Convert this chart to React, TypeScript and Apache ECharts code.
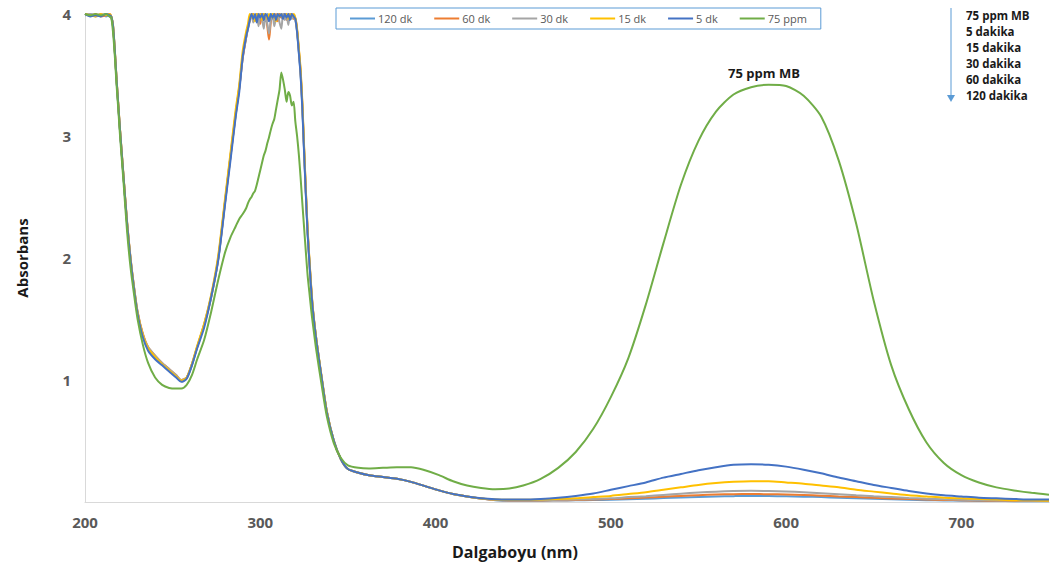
import React, { useEffect, useRef } from "react";
import * as echarts from "echarts";

// Wavelength grid (nm)
const WAVELENGTH: number[] = [
  200, 203, 206, 209, 212, 214, 215, 216, 217, 218, 219, 220, 222, 224, 226, 228, 230, 233, 236, 240, 244, 248, 252, 255, 258, 261, 264, 268, 272, 276, 280, 283, 286, 288, 290, 292,
  293, 294, 295, 296, 297, 298, 299, 300, 301, 302, 303, 304, 305, 306, 307, 308, 309, 310, 311, 312, 313, 314, 315, 316, 317, 318, 319, 320, 321, 322, 323, 324, 325, 326, 327, 328, 329, 330,
  332, 335, 338, 342, 346, 350, 356, 362, 370, 378, 386, 394, 402, 410, 418, 426, 434, 442, 450, 460, 470, 480, 490, 500, 510, 520, 530, 540, 550, 560, 570, 580, 590, 600, 610, 620, 630, 640, 650, 660, 670, 680, 690, 700, 710, 720, 730, 740, 750,
];

const SERIES_NAMES = ["120 dk", "60 dk", "30 dk", "15 dk", "5 dk", "75 ppm"];
const SERIES_COLORS = ["#5B9BD5", "#ED7D31", "#A5A5A5", "#FFC000", "#4472C4", "#70AD47"];

const ABS_120: number[] = [
  3.99, 4.0, 3.99, 4.0, 3.98, 3.99, 3.98, 3.9, 3.7, 3.46, 3.25, 3.04, 2.66, 2.29, 1.99, 1.75, 1.55, 1.37, 1.26, 1.19, 1.13, 1.08, 1.03, 0.99, 1.015, 1.12, 1.27, 1.45, 1.68, 1.99, 2.47, 2.83, 3.18, 3.39, 3.64, 3.81,
  3.88, 3.94, 3.99, 4.0, 3.97, 4.0, 3.95, 4.0, 3.98, 4.0, 3.94, 4.0, 3.97, 4.0, 3.96, 4.0, 3.98, 3.95, 4.0, 3.97, 4.0, 3.99, 4.0, 3.96, 4.0, 3.98, 3.99, 3.96, 3.86, 3.69, 3.51, 3.24, 2.88, 2.53, 2.21, 1.98, 1.76, 1.58,
  1.33, 1.02, 0.74, 0.5, 0.35, 0.27, 0.24, 0.22, 0.205, 0.19, 0.165, 0.13, 0.095, 0.065, 0.045, 0.028, 0.015, 0.01, 0.01, 0.01, 0.012, 0.014, 0.016, 0.018, 0.022, 0.027, 0.032, 0.037, 0.041, 0.045, 0.048, 0.05, 0.049, 0.047, 0.044, 0.04, 0.035, 0.031, 0.026, 0.022, 0.018, 0.015, 0.013, 0.011, 0.009, 0.008, 0.007, 0.006, 0.006,
];

const ABS_60: number[] = [
  4.0, 3.99, 4.0, 3.98, 3.99, 4.0, 3.98, 3.9, 3.7, 3.47, 3.26, 3.05, 2.67, 2.3, 2.0, 1.76, 1.56, 1.38, 1.27, 1.2, 1.14, 1.09, 1.04, 1.0, 1.02, 1.13, 1.27, 1.45, 1.68, 1.99, 2.47, 2.83, 3.18, 3.39, 3.64, 3.81,
  3.89, 3.95, 3.99, 4.0, 3.96, 4.0, 3.97, 3.92, 4.0, 3.95, 3.99, 3.9, 3.79, 3.93, 4.0, 3.97, 4.0, 3.94, 4.0, 3.97, 3.99, 4.0, 3.95, 4.0, 3.98, 4.0, 3.96, 3.97, 3.87, 3.71, 3.53, 3.26, 2.9, 2.55, 2.23, 1.99, 1.77, 1.58,
  1.33, 1.02, 0.74, 0.5, 0.35, 0.27, 0.24, 0.22, 0.205, 0.19, 0.165, 0.13, 0.095, 0.065, 0.045, 0.028, 0.016, 0.012, 0.012, 0.012, 0.014, 0.016, 0.02, 0.024, 0.03, 0.036, 0.043, 0.05, 0.056, 0.061, 0.064, 0.065, 0.064, 0.061, 0.057, 0.052, 0.046, 0.04, 0.034, 0.029, 0.024, 0.02, 0.017, 0.014, 0.012, 0.01, 0.009, 0.008, 0.008,
];

const ABS_30: number[] = [
  3.99, 4.0, 3.98, 3.99, 4.0, 3.98, 3.97, 3.89, 3.69, 3.46, 3.25, 3.04, 2.66, 2.29, 1.99, 1.76, 1.56, 1.37, 1.27, 1.2, 1.14, 1.09, 1.04, 1.0, 1.02, 1.13, 1.27, 1.46, 1.69, 2.0, 2.48, 2.84, 3.19, 3.4, 3.66, 3.82,
  3.9, 3.96, 4.0, 3.93, 3.98, 4.0, 3.9, 4.0, 3.96, 3.88, 4.0, 3.92, 3.84, 3.95, 4.0, 3.9, 3.97, 4.0, 3.93, 3.88, 4.0, 3.95, 3.99, 3.91, 4.0, 3.96, 3.98, 3.95, 3.86, 3.7, 3.52, 3.25, 2.89, 2.54, 2.22, 1.98, 1.76, 1.58,
  1.33, 1.02, 0.74, 0.5, 0.35, 0.27, 0.24, 0.22, 0.205, 0.19, 0.165, 0.13, 0.095, 0.065, 0.045, 0.028, 0.018, 0.015, 0.015, 0.015, 0.018, 0.02, 0.025, 0.03, 0.04, 0.048, 0.058, 0.068, 0.078, 0.085, 0.09, 0.092, 0.09, 0.086, 0.08, 0.072, 0.064, 0.055, 0.047, 0.04, 0.033, 0.027, 0.022, 0.018, 0.015, 0.013, 0.012, 0.01, 0.01,
];

const ABS_15: number[] = [
  4.0, 3.99, 3.98, 4.0, 3.99, 4.0, 3.98, 3.91, 3.71, 3.47, 3.26, 3.05, 2.67, 2.29, 1.99, 1.75, 1.55, 1.37, 1.26, 1.19, 1.13, 1.08, 1.03, 0.995, 1.02, 1.13, 1.28, 1.46, 1.7, 2.02, 2.5, 2.86, 3.22, 3.42, 3.7, 3.86,
  3.92, 4.0, 3.97, 4.0, 3.94, 4.0, 3.98, 4.0, 3.95, 4.0, 3.99, 3.96, 4.0, 3.97, 4.0, 3.99, 3.94, 4.0, 3.98, 4.0, 3.97, 3.99, 4.0, 3.96, 4.0, 3.98, 4.0, 3.97, 3.88, 3.72, 3.55, 3.28, 2.92, 2.56, 2.24, 2.0, 1.78, 1.59,
  1.33, 1.03, 0.74, 0.5, 0.35, 0.27, 0.24, 0.22, 0.205, 0.19, 0.165, 0.13, 0.095, 0.065, 0.045, 0.028, 0.02, 0.018, 0.018, 0.02, 0.025, 0.03, 0.04, 0.05, 0.065, 0.08, 0.1, 0.12, 0.14, 0.155, 0.165, 0.17, 0.17, 0.16, 0.15, 0.135, 0.12, 0.1, 0.085, 0.07, 0.055, 0.045, 0.035, 0.03, 0.025, 0.02, 0.015, 0.015, 0.01,
];

const ABS_5: number[] = [
  4.0, 3.98, 3.99, 3.98, 4.0, 3.99, 3.98, 3.9, 3.7, 3.46, 3.25, 3.04, 2.66, 2.28, 1.98, 1.74, 1.54, 1.35, 1.24, 1.17, 1.12, 1.07, 1.02, 0.985, 1.01, 1.12, 1.26, 1.43, 1.68, 1.98, 2.45, 2.8, 3.16, 3.36, 3.65, 3.82,
  3.88, 3.95, 4.0, 3.96, 4.0, 3.93, 4.0, 3.97, 4.0, 3.95, 4.0, 3.98, 3.94, 4.0, 3.97, 4.0, 3.95, 4.0, 3.98, 4.0, 3.96, 4.0, 3.97, 4.0, 3.95, 4.0, 3.98, 3.96, 3.85, 3.68, 3.5, 3.22, 2.86, 2.52, 2.2, 1.97, 1.75, 1.57,
  1.32, 1.02, 0.73, 0.5, 0.35, 0.27, 0.24, 0.22, 0.205, 0.19, 0.165, 0.13, 0.095, 0.065, 0.045, 0.03, 0.022, 0.02, 0.02, 0.025, 0.035, 0.05, 0.07, 0.1, 0.13, 0.16, 0.2, 0.23, 0.26, 0.285, 0.305, 0.31, 0.305, 0.29, 0.265, 0.235, 0.2, 0.17, 0.14, 0.115, 0.09, 0.07, 0.055, 0.045, 0.035, 0.03, 0.025, 0.02, 0.02,
];

const ABS_75PPM: number[] = [
  4.0, 3.99, 4.0, 3.99, 4.0, 3.98, 3.97, 3.85, 3.66, 3.42, 3.22, 3.0, 2.62, 2.22, 1.92, 1.7, 1.5, 1.29, 1.14, 1.02, 0.96, 0.935, 0.93, 0.93, 0.96, 1.04, 1.17, 1.33, 1.56, 1.82, 2.05, 2.17, 2.26, 2.32, 2.36, 2.41,
  2.45, 2.48, 2.5, 2.53, 2.55, 2.6, 2.66, 2.72, 2.78, 2.84, 2.88, 2.94, 2.99, 3.05, 3.1, 3.14, 3.22, 3.3, 3.38, 3.52, 3.46, 3.38, 3.28, 3.36, 3.33, 3.25, 3.28, 3.12, 3.0, 2.85, 2.66, 2.45, 2.25, 2.05, 1.86, 1.72, 1.58, 1.46,
  1.24, 0.96, 0.7, 0.48, 0.36, 0.3, 0.28, 0.275, 0.28, 0.285, 0.285, 0.26, 0.22, 0.17, 0.135, 0.115, 0.105, 0.11, 0.135, 0.19, 0.28, 0.41, 0.6, 0.86, 1.18, 1.62, 2.12, 2.6, 2.96, 3.2, 3.34, 3.4, 3.42, 3.41, 3.33, 3.16, 2.8, 2.28, 1.65, 1.12, 0.76, 0.49, 0.32, 0.22, 0.16, 0.12, 0.095, 0.075, 0.06,
];

const SERIES_VALUES = [ABS_120, ABS_60, ABS_30, ABS_15, ABS_5, ABS_75PPM];

const X_TICKS_MIN = 200;
const X_TICKS_MAX = 750;
const Y_MAX = 4;

const NOTE_LINES = ["75 ppm MB", "5 dakika", "15 dakika", "30 dakika", "60 dakika", "120 dakika"];
const PEAK_LABEL = "75 ppm MB";
const X_TITLE = "Dalgaboyu (nm)";
const Y_TITLE = "Absorbans";

const FONT = "'Open Sans', sans-serif";

export default function App() {
  const ref = useRef<HTMLDivElement>(null);

  useEffect(() => {
    if (!ref.current) return;
    const chart = echarts.init(ref.current, undefined, { renderer: "svg" });

    const series = SERIES_NAMES.map((name, i) => ({
      name,
      type: "line",
      data: WAVELENGTH.map((w, k) => [w, SERIES_VALUES[i][k]]),
      showSymbol: false,
      symbol: "none",
      smooth: 0.25,
      lineStyle: { width: 2, color: SERIES_COLORS[i] },
      itemStyle: { color: SERIES_COLORS[i] },
      z: 2 + i,
    }));

    const noteGraphics = NOTE_LINES.map((t, i) => ({
      type: "text",
      x: 966,
      y: 15 + i * 16,
      style: {
        text: t,
        font: `bold 11.5px ${FONT}`,
        fill: "#1a1a1a",
        textAlign: "left",
        textVerticalAlign: "middle",
      },
    }));

    chart.setOption({
      animation: false,
      backgroundColor: "#ffffff",
      grid: { left: 85, right: 2, top: 14, bottom: 69, containLabel: false },
      legend: {
        data: SERIES_NAMES,
        left: 336,
        top: 8,
        orient: "horizontal",
        icon: "rect",
        itemWidth: 25,
        itemHeight: 2,
        itemGap: 22,
        padding: [5, 14, 5, 14],
        borderColor: "#5B9BD5",
        borderWidth: 1,
        textStyle: { fontSize: 11, color: "#595959", fontFamily: FONT, padding: [0, 0, 0, -2] },
      },
      xAxis: {
        type: "value",
        min: X_TICKS_MIN,
        max: X_TICKS_MAX,
        interval: 100,
        axisLine: { show: true, lineStyle: { color: "#D9D9D9", width: 1 } },
        axisTick: { show: false },
        splitLine: { show: false },
        axisLabel: {
          showMaxLabel: false,
          margin: 12,
          color: "#595959",
          fontSize: 15,
          fontWeight: "bold",
          fontFamily: FONT,
        },
      },
      yAxis: {
        type: "value",
        min: 0,
        max: Y_MAX,
        interval: 1,
        axisLine: { show: true, lineStyle: { color: "#D9D9D9", width: 1 } },
        axisTick: { show: false },
        splitLine: { show: false },
        axisLabel: {
          showMinLabel: false,
          margin: 14,
          color: "#595959",
          fontSize: 15,
          fontWeight: "bold",
          fontFamily: FONT,
        },
      },
      series,
      graphic: [
        {
          type: "text",
          x: 22,
          y: 258,
          rotation: Math.PI / 2,
          style: {
            text: Y_TITLE,
            font: `bold 15px ${FONT}`,
            fill: "#1a1a1a",
            textAlign: "center",
            textVerticalAlign: "middle",
          },
        },
        {
          type: "text",
          x: 515,
          y: 552,
          style: {
            text: X_TITLE,
            font: `bold 16px ${FONT}`,
            fill: "#1a1a1a",
            textAlign: "center",
            textVerticalAlign: "middle",
          },
        },
        {
          type: "text",
          x: 764,
          y: 73,
          style: {
            text: PEAK_LABEL,
            font: `bold 13px ${FONT}`,
            fill: "#1a1a1a",
            textAlign: "center",
            textVerticalAlign: "middle",
          },
        },
        {
          type: "line",
          shape: { x1: 951, y1: 8, x2: 951, y2: 96 },
          style: { stroke: "#5B9BD5", lineWidth: 1 },
        },
        {
          type: "polygon",
          shape: { points: [[947, 95], [955, 95], [951, 102]] },
          style: { fill: "#5B9BD5" },
        },
        ...noteGraphics,
      ],
    });

    return () => chart.dispose();
  }, []);

  return (
    <div
      ref={ref}
      style={{ position: "fixed", left: 0, top: 0, width: 1051, height: 571, background: "#fff" }}
    />
  );
}
